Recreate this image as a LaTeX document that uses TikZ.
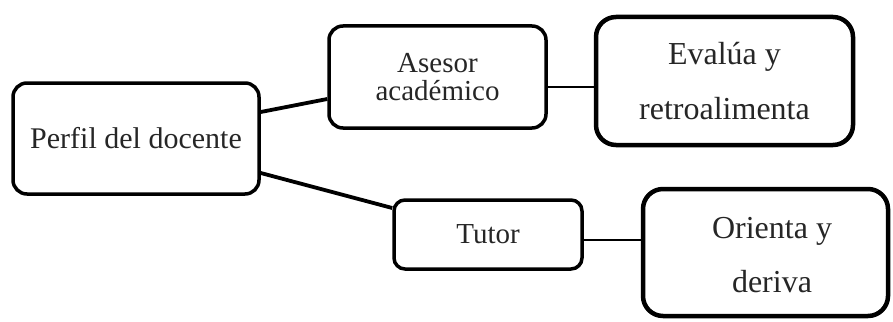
\documentclass[tikz,border=0pt]{standalone}
\usepackage{fontspec}
\setmainfont{Liberation Serif}
\begin{document}
\begin{tikzpicture}[x=1pt,y=-1pt,
  txt/.style={text=black!85, align=center, inner sep=0pt},
  midbox/.style={txt, draw=black, line width=3.5pt, rounded corners=14pt},
  bigbox/.style={txt, draw=black, line width=4.5pt, rounded corners=20pt},
  thick link/.style={draw=black, line width=3.8pt},
  thin link/.style={draw=black, line width=1.5pt}]
\useasboundingbox (0,0) rectangle (893,321);
\node[midbox, minimum width=246pt, minimum height=111pt, font=\fontsize{30}{34}\selectfont] (perfil) at (136,138.5) {Perfil del docente};
\node[midbox, minimum width=217pt, minimum height=102pt, font=\fontsize{29}{28}\selectfont] (asesor) at (437.5,77) {Asesor\\acad\'emico};
\node[midbox, rounded corners=11pt, minimum width=188pt, minimum height=69pt, font=\fontsize{29}{34}\selectfont] (tutor) at (488,234.5) {Tutor};
\node[bigbox, minimum width=257pt, minimum height=128pt, font=\fontsize{32}{55}\selectfont] (evalua) at (724.5,81) {Eval\'ua y\\retroalimenta};
\node[bigbox, minimum width=245pt, minimum height=127pt] (orienta) at (765.5,252.5) {};
\node[txt, font=\fontsize{32}{54}\selectfont] (orientatxt) at (772,255) {Orienta y\\deriva};
\draw[thick link] ([yshift=26.5]perfil.east) -- ([yshift=-22]asesor.west);
\draw[thick link] ([yshift=-34.5]perfil.east) -- ([yshift=26.5]tutor.west);
\draw[thin link] ([yshift=-10]asesor.east) -- ([yshift=-10]asesor.east -| evalua.west);
\draw[thin link] ([yshift=-5.5]tutor.east) -- ([yshift=-5.5]tutor.east -| orienta.west);
\end{tikzpicture}
\end{document}
